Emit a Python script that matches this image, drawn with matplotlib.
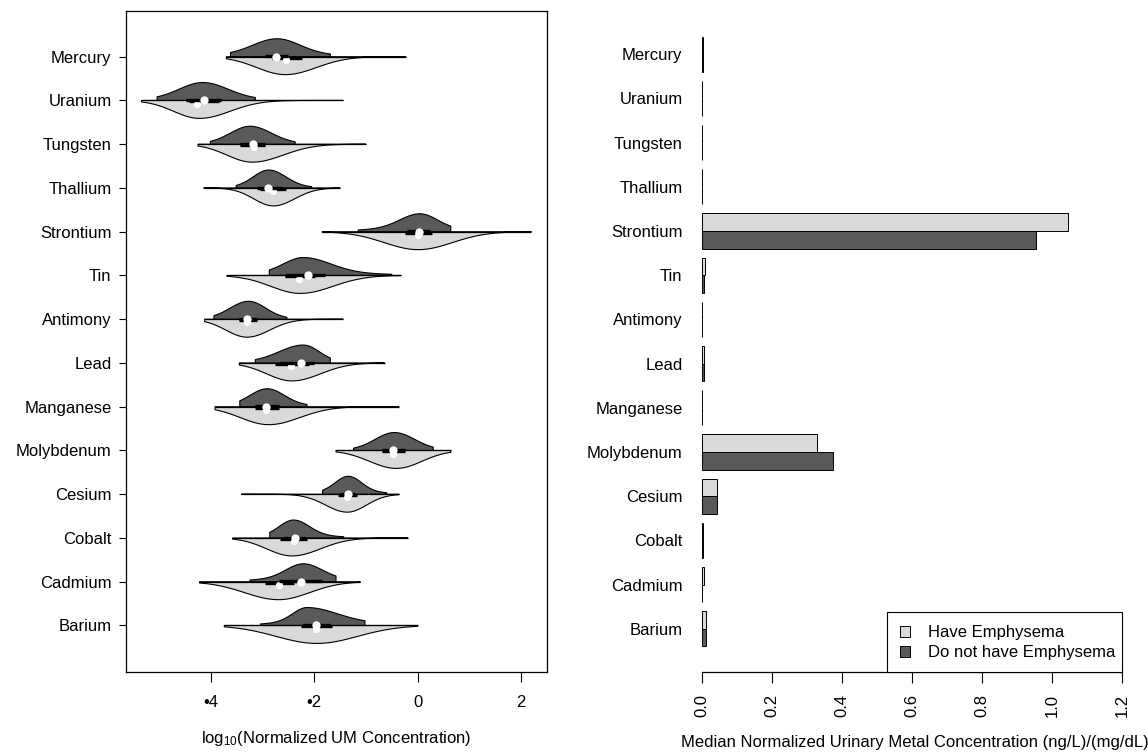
import numpy as np
import matplotlib
matplotlib.use("Agg")
import matplotlib.pyplot as plt
from matplotlib.patches import Patch, Polygon, Rectangle

plt.rcParams['font.family'] = ['Liberation Sans', 'DejaVu Sans']
plt.rcParams['mathtext.fontset'] = 'custom'
plt.rcParams['mathtext.rm'] = 'Liberation Sans'
plt.rcParams['mathtext.it'] = 'Liberation Sans:italic'

# ---------------- data (top to bottom as displayed) ----------------
metals = ["Mercury", "Uranium", "Tungsten", "Thallium", "Strontium", "Tin", "Antimony",
          "Lead", "Manganese", "Molybdenum", "Cesium", "Cobalt", "Cadmium", "Barium"]

# violin summary (log10 normalized concentration)
range_min = [-3.70, -5.34, -4.25, -4.14, -1.85, -3.69, -4.12, -3.45, -3.92, -1.58, -3.41, -3.58, -4.22, -3.74]
range_max = [-0.23, -1.44, -1.00, -1.50, 2.20, -0.32, -1.44, -0.64, -0.36, 0.64, -0.36, -0.19, -1.11, 0.00]

# "Do not have" half (dark, upper)
dark_lo = [-3.62, -5.04, -4.01, -3.51, -1.15, -2.87, -3.94, -3.14, -3.44, -1.24, -1.84, -2.86, -3.24, -3.04]
dark_hi = [-1.69, -3.14, -2.37, -2.05, 0.64, -0.50, -2.53, -1.69, -2.14, 0.30, -0.60, -1.43, -1.58, -1.02]
dark_mode = [-2.72, -4.155, -3.24, -2.88, 0.044, -2.21, -3.27, -2.21, -2.91, -0.45, -1.34, -2.40, -2.21, -2.14]
dark_sl = [0.46, 0.45, 0.38, 0.30, 0.38, 0.38, 0.355, 0.46, 0.33, 0.37, 0.25, 0.27, 0.33, 0.27]
dark_sr = [0.44, 0.48, 0.41, 0.33, 0.33, 0.52, 0.33, 0.30, 0.33, 0.39, 0.25, 0.30, 0.355, 0.57]
dark_tail = [0.15, 0.10, 0.05, 0.05, 0.20, 0.15, 0.05, 0.10, 0.10, 0.05, 0.15, 0.15, 0.20, 0.20]
dark_median = [-2.74, -4.14, -3.19, -2.90, 0.025, -2.13, -3.30, -2.25, -2.93, -0.47, -1.34, -2.37, -2.26, -1.96]
dark_q1 = [-2.95, -4.49, -3.43, -3.11, -0.21, -2.56, -3.46, -2.66, -3.14, -0.69, -1.50, -2.59, -2.69, -2.21]
dark_q3 = [-2.50, -3.81, -2.95, -2.62, 0.24, -1.79, -3.11, -2.01, -2.69, -0.25, -1.21, -2.17, -1.85, -1.69]

# "Have" half (light, lower)
light_mode = [-2.56, -4.22, -3.20, -2.79, 0.012, -2.27, -3.30, -2.43, -2.88, -0.41, -1.36, -2.43, -2.69, -1.95]
light_sl = [0.55, 0.50, 0.49, 0.38, 0.66, 0.57, 0.41, 0.49, 0.55, 0.52, 0.42, 0.49, 0.66, 0.79]
light_sr = [0.60, 0.59, 0.60, 0.41, 0.66, 0.63, 0.44, 0.55, 0.60, 0.49, 0.37, 0.55, 0.60, 0.79]
light_median = [-2.54, -4.26, -3.17, -2.79, 0.01, -2.30, -3.30, -2.45, -2.93, -0.47, -1.36, -2.40, -2.68, -1.96]
light_q1 = [-2.82, -4.43, -3.43, -3.05, -0.25, -2.56, -3.46, -2.75, -3.14, -0.69, -1.55, -2.66, -2.95, -2.25]
light_q3 = [-2.24, -3.85, -2.95, -2.55, 0.28, -1.98, -3.11, -2.10, -2.69, -0.25, -1.18, -2.15, -2.40, -1.65]

# bar chart: median normalized urinary metal concentration
have_emph = [0.004, 0.001, 0.001, 0.001, 1.046, 0.008, 0.001, 0.006, 0.001, 0.328, 0.044, 0.004, 0.006, 0.011]
no_emph = [0.004, 0.001, 0.001, 0.001, 0.954, 0.006, 0.001, 0.006, 0.001, 0.374, 0.042, 0.004, 0.001, 0.012]

left_ticks = [-4, -2, 0, 2]
left_ticklabels = ["\u20224", "\u20222", "0", "2"]
right_ticks = [0.0, 0.2, 0.4, 0.6, 0.8, 1.0, 1.2]
legend_labels = ["Have Emphysema", "Do not have Emphysema"]

LIGHT = "#d9d9d9"
DARK = "#595959"

# ---------------- figure ----------------
W, H = 1148, 754
fig = plt.figure(figsize=(W / 100, H / 100), dpi=100)


def ax_px(x0, y0, x1, y1):
    return fig.add_axes([x0 / W, 1 - y1 / H, (x1 - x0) / W, (y1 - y0) / H])


axL = ax_px(125.7, 10.5, 547.3, 672)
axR = ax_px(702, 12, 1122, 672)

n = len(metals)
pos = np.arange(n)[::-1].astype(float)  # Mercury at top
HALF = 0.41


def profile(x, mode, sl, sr, t):
    s = np.where(x < mode, sl, sr)
    g1 = np.exp(-0.5 * ((x - mode) / s) ** 2)
    g2 = np.exp(-0.5 * ((x - mode) / (2.5 * s)) ** 2)
    return (1 - t) * g1 + t * g2


for i in range(n):
    p = pos[i]
    # light (lower) half
    xs = np.linspace(range_min[i], range_max[i], 300)
    ys = p - HALF * profile(xs, light_mode[i], light_sl[i], light_sr[i], 0.0)
    verts = [(xs[0], p)] + list(zip(xs, ys)) + [(xs[-1], p)]
    axL.add_patch(Polygon(verts, closed=True, facecolor=LIGHT, edgecolor="black", lw=0.8, zorder=2))
    # dark (upper) half
    xs = np.linspace(dark_lo[i], dark_hi[i], 300)
    ys = p + HALF * profile(xs, dark_mode[i], dark_sl[i], dark_sr[i], dark_tail[i])
    verts = [(xs[0], p)] + list(zip(xs, ys)) + [(xs[-1], p)]
    axL.add_patch(Polygon(verts, closed=True, facecolor=DARK, edgecolor="black", lw=0.8, zorder=2))
    # range line
    axL.plot([range_min[i], range_max[i]], [p, p], color="black", lw=0.9, zorder=3,
             solid_capstyle="butt")
    # light box + median
    axL.plot([light_q1[i], light_q3[i]], [p - 0.02, p - 0.02], color="black", lw=2.4, zorder=4,
             solid_capstyle="butt")
    axL.plot([light_median[i]], [p - 0.07], "o", color="white", ms=5.2, mec="none", zorder=4)
    # dark box + median
    axL.plot([dark_q1[i], dark_q3[i]], [p + 0.01, p + 0.01], color="black", lw=2.4, zorder=5,
             solid_capstyle="butt")
    axL.plot([dark_median[i]], [p], "o", color="white", ms=6.0, mec="none", zorder=6)

axL.set_xlim(-5.647, 2.507)
axL.set_ylim(-1.063, 14.056)
axL.set_xticks(left_ticks)
axL.set_xticklabels(left_ticklabels, fontsize=12)
axL.set_yticks(pos)
axL.set_yticklabels(metals, fontsize=12)
axL.tick_params(axis="x", direction="out", length=7.2, width=0.8, pad=9.5)
axL.tick_params(axis="y", direction="out", length=5.2, width=0.8, pad=5)
for s in axL.spines.values():
    s.set_linewidth(0.9)

# ---------------- bars ----------------
BH = 0.398
axR.barh(pos + BH / 2, have_emph, height=BH, color=LIGHT, edgecolor="black", lw=0.7)
axR.barh(pos - BH / 2, no_emph, height=BH, color=DARK, edgecolor="black", lw=0.7)
axR.set_xlim(0, 1.2)
axR.set_ylim(-0.977, 13.955)
for s in ["top", "right", "left"]:
    axR.spines[s].set_visible(False)
axR.spines["bottom"].set_linewidth(0.9)
axR.set_xticks(right_ticks)
axR.set_xticklabels([f"{v:.1f}" for v in right_ticks], rotation=90, fontsize=12)
axR.tick_params(axis="x", direction="out", length=7.8, width=0.8, pad=8)
axR.set_yticks(pos)
axR.set_yticklabels(metals, fontsize=12)
axR.tick_params(axis="y", length=0, pad=14)

# legend: frame drawn as its own rectangle, entries placed inside
fig.patches.append(Rectangle((887 / W, 1 - 672 / H), 235 / W, 60 / H, transform=fig.transFigure,
                             facecolor="white", edgecolor="black", lw=0.8, zorder=5))
handles = [Patch(facecolor=LIGHT, edgecolor="black", lw=0.7),
           Patch(facecolor=DARK, edgecolor="black", lw=0.7)]
leg = fig.legend(handles, legend_labels, loc="center left",
                 bbox_to_anchor=(900 / W, 1 - 643 / H), bbox_transform=fig.transFigure,
                 frameon=False, borderpad=0, borderaxespad=0,
                 fontsize=12, handlelength=0.62, handleheight=0.62, handletextpad=1.05,
                 labelspacing=0.3)
leg.set_zorder(6)

fig.text(336.5 / W, 1 - 739 / H, "log$_{\\mathrm{10}}$(Normalized UM Concentration)",
         ha="center", va="center", fontsize=12)
fig.text(915 / W, 1 - 743 / H, "Median Normalized Urinary Metal Concentration (ng/L)/(mg/dL)",
         ha="center", va="center", fontsize=12)

fig.savefig("out.png", dpi=100)
